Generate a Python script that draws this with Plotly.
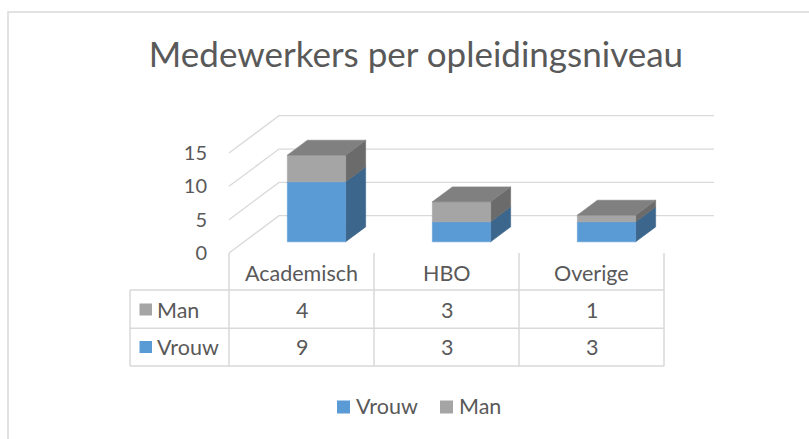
import plotly.graph_objects as go

# ---------------- data ----------------
categories = ["Academisch", "HBO", "Overige"]
vrouw = [9, 3, 3]
man = [4, 3, 1]
series_names = ["Vrouw", "Man"]
y_ticks = [0, 5, 10, 15]
title_text = "Medewerkers per opleidingsniveau"

# ---------------- style / geometry ----------------
W, H = 809, 439
FONT = "Lato"
TXT = "#595959"
GRID = "#D9D9D9"
front_col = {"Vrouw": "#5B9BD5", "Man": "#A5A5A5"}
side_col = {"Vrouw": "#3C668C", "Man": "#6B6B6B"}
top_col = {"Vrouw": "#4A82B8", "Man": "#808080"}

X0PX, UX = 301.5, 145.0     # px of first category centre, px per category
Y0PX, UY = 253.0, 6.667     # px of value 0 at floor front, px per unit value
xr = [(0 - X0PX) / UX, (W - X0PX) / UX]
yr = [(Y0PX - H) / UY, Y0PX / UY]

DX, DY = 50 / UX, 37.3 / UY  # floor depth in data units
FF, BF = 0.3, 0.7            # front / back depth fraction of bars
fox, foy = FF * DX, FF * DY
box, boy = BF * DX, BF * DY
HW = 0.201                   # half bar width (category units)
FS = 21.5
FS_TICK = 20


def px(x):
    return x / W


def py(y):
    return 1 - y / H


def face(xs, ys, color):
    return go.Scatter(x=xs + [xs[0]], y=ys + [ys[0]], fill="toself", fillcolor=color,
                      mode="lines", line=dict(width=0.6, color=color),
                      showlegend=False, hoverinfo="skip")


fig = go.Figure()
n = len(categories)

# gridlines (side wall + back wall)
for v in y_ticks:
    fig.add_trace(go.Scatter(
        x=[-0.5, -0.5 + DX, n - 0.5 + DX], y=[v, v + DY, v + DY],
        mode="lines", line=dict(color=GRID, width=1.3),
        showlegend=False, hoverinfo="skip"))

# 3D stacked bars
for i, c in enumerate(categories):
    stack = [("Vrouw", 0, vrouw[i]), ("Man", vrouw[i], vrouw[i] + man[i])]
    xl, xrgt = i + fox - HW, i + fox + HW
    for name, b, t in stack:
        fig.add_trace(face([xrgt, i + box + HW, i + box + HW, xrgt],
                           [b + foy, b + boy, t + boy, t + foy], side_col[name]))
        fig.add_trace(face([xl, xrgt, xrgt, xl],
                           [b + foy, b + foy, t + foy, t + foy], front_col[name]))
    T = vrouw[i] + man[i]
    fig.add_trace(face([xl, xrgt, i + box + HW, i + box - HW],
                       [T + foy, T + foy, T + boy, T + boy], top_col["Man"]))

# ---------------- data table ----------------
shapes = []
row_top, row_mid, row_bot = 290, 328.3, 366
for k in range(n + 1):
    shapes.append(dict(type="line", xref="x", yref="paper",
                       x0=k - 0.5, x1=k - 0.5, y0=py(253), y1=py(row_bot),
                       line=dict(color=GRID, width=1.5)))
for yy in (row_top, row_mid, row_bot):
    shapes.append(dict(type="line", xref="paper", yref="paper",
                       x0=px(130), x1=px(X0PX + UX * (n - 0.5)), y0=py(yy), y1=py(yy),
                       line=dict(color=GRID, width=1.5)))
shapes.append(dict(type="line", xref="paper", yref="paper",
                   x0=px(130), x1=px(130), y0=py(row_top), y1=py(row_bot),
                   line=dict(color=GRID, width=1.5)))
for name, yc in (("Man", 309.5), ("Vrouw", 347)):
    shapes.append(dict(type="rect", xref="paper", yref="paper",
                       x0=px(139.5), x1=px(152), y0=py(yc - 6), y1=py(yc + 6),
                       fillcolor=front_col[name], line=dict(width=0)))
# legend keys
leg = [("Vrouw", 337, 356), ("Man", 440, 459)]
for name, sx, tx in leg:
    shapes.append(dict(type="rect", xref="paper", yref="paper",
                       x0=px(sx), x1=px(sx + 13), y0=py(407 - 6.5), y1=py(407 + 6.5),
                       fillcolor=front_col[name], line=dict(width=0)))
# chart border
shapes.append(dict(type="rect", xref="paper", yref="paper",
                   x0=px(8), x1=1.2, y0=py(12), y1=-0.2,
                   line=dict(color=GRID, width=1.5), fillcolor="rgba(0,0,0,0)"))

ann = []
tf = dict(size=FS, color=TXT, family=FONT)
for i, c in enumerate(categories):
    for txt, yc in ((c, 273), (str(man[i]), 309.5), (str(vrouw[i]), 347)):
        ann.append(dict(x=i, y=py(yc), xref="x", yref="paper", text=txt,
                        xanchor="center", yanchor="middle", showarrow=False, font=tf))
for name, yc in (("Man", 309.5), ("Vrouw", 347)):
    ann.append(dict(x=px(155), y=py(yc), xref="paper", yref="paper", text=name,
                    xanchor="left", yanchor="middle", showarrow=False, font=tf))
for name, sx, tx in leg:
    ann.append(dict(x=px(tx - 2), y=py(406), xref="paper", yref="paper", text=name,
                    xanchor="left", yanchor="middle", showarrow=False, font=tf))

fig.update_layout(
    width=W, height=H, margin=dict(l=0, r=0, t=0, b=0),
    paper_bgcolor="white", plot_bgcolor="white",
    font=dict(family=FONT, color=TXT, size=FS),
    title=dict(text=title_text, x=416 / W, xanchor="center", y=py(55), yanchor="middle",
               font=dict(size=35, color=TXT, family=FONT)),
    xaxis=dict(range=xr, visible=False, fixedrange=True),
    yaxis=dict(range=yr, tickvals=y_ticks, showgrid=False, zeroline=False,
               showline=False, ticks="", anchor="free", position=229 / W,
               ticklabelstandoff=22, tickfont=dict(size=FS_TICK, color=TXT, family=FONT),
               fixedrange=True),
    shapes=shapes, annotations=ann, showlegend=False,
)

fig.write_html("out.html", config={"displayModeBar": False},
               post_script="document.body.style.margin='0';")
